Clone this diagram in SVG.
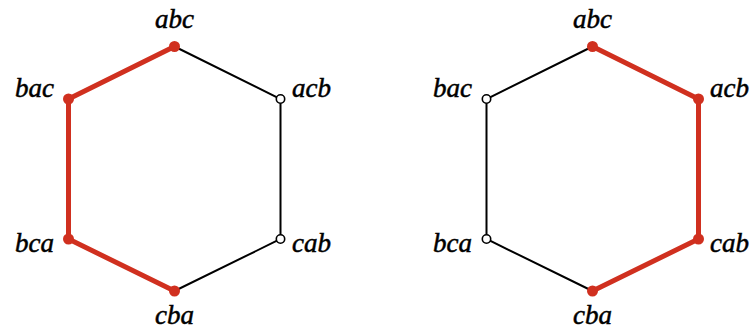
<svg xmlns="http://www.w3.org/2000/svg" width="755" height="331" viewBox="0 0 755 331">
<style>
.red{fill:none;stroke:#d0301f;stroke-width:5;stroke-linejoin:round;stroke-linecap:round}
.blk{fill:none;stroke:#000;stroke-width:2}
.dot{fill:#d0301f}
.open{fill:#fff;stroke:#000;stroke-width:1.6}
text{font-family:"Liberation Serif",serif;font-style:italic;font-size:27px;fill:#000;stroke:#000;stroke-width:0.5}
</style>
<rect width="755" height="331" fill="#fff"/>
<g id="connectors">
<polyline class="blk" points="174.5,46.5 280.5,99 280.5,239 174.5,291"/>
<polyline class="red" points="174.5,46.5 68.5,99 68.5,239 174.5,291"/>
<polyline class="blk" points="592.5,46.5 486.5,99 486.5,239 592.5,291"/>
<polyline class="red" points="592.5,46.5 698.5,99 698.5,239 592.5,291"/>
</g>
<g id="L-abc"><circle class="dot" cx="174.5" cy="46.5" r="5.5"/><text x="174.5" y="28" text-anchor="middle">abc</text></g>
<g id="L-bac"><circle class="dot" cx="68.5" cy="99" r="5.5"/><text x="54" y="97" text-anchor="end">bac</text></g>
<g id="L-acb"><circle class="open" cx="280.5" cy="99" r="4.2"/><text x="292" y="97">acb</text></g>
<g id="L-bca"><circle class="dot" cx="68.5" cy="239" r="5.5"/><text x="54" y="252" text-anchor="end">bca</text></g>
<g id="L-cab"><circle class="open" cx="280.5" cy="239" r="4.2"/><text x="292" y="252">cab</text></g>
<g id="L-cba"><circle class="dot" cx="174.5" cy="291" r="5.5"/><text x="174.5" y="324" text-anchor="middle">cba</text></g>
<g id="R-abc"><circle class="dot" cx="592.5" cy="46.5" r="5.5"/><text x="592.5" y="28" text-anchor="middle">abc</text></g>
<g id="R-bac"><circle class="open" cx="486.5" cy="99" r="4.2"/><text x="472" y="97" text-anchor="end">bac</text></g>
<g id="R-acb"><circle class="dot" cx="698.5" cy="99" r="5.5"/><text x="710" y="97">acb</text></g>
<g id="R-bca"><circle class="open" cx="486.5" cy="239" r="4.2"/><text x="472" y="252" text-anchor="end">bca</text></g>
<g id="R-cab"><circle class="dot" cx="698.5" cy="239" r="5.5"/><text x="710" y="252">cab</text></g>
<g id="R-cba"><circle class="dot" cx="592.5" cy="291" r="5.5"/><text x="592.5" y="324" text-anchor="middle">cba</text></g>
</svg>
